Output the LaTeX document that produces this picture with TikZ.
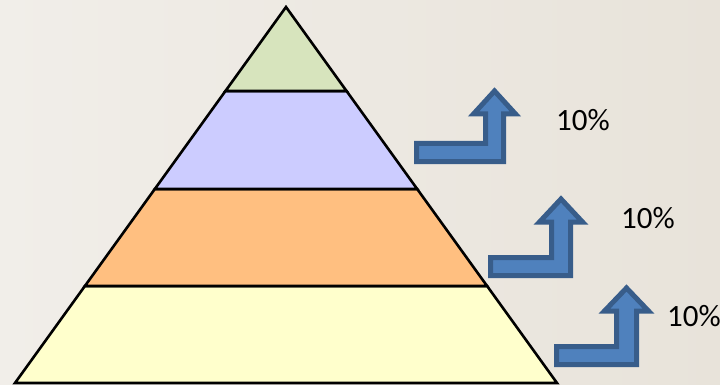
\documentclass[tikz,border=0pt]{standalone}
\usepackage{fontspec}
\setmainfont{Carlito}
\usepackage{tikz}
\usetikzlibrary{calc}
\definecolor{paperlight}{HTML}{F1EEE9}
\definecolor{paperdark}{HTML}{E8E3DA}
\definecolor{tiertop}{HTML}{D7E4BD}
\definecolor{tiertwo}{HTML}{CCCCFF}
\definecolor{tierthree}{HTML}{FFBF80}
\definecolor{tierbase}{HTML}{FFFFCC}
\definecolor{arrowfill}{HTML}{4F81BD}
\definecolor{arrowline}{HTML}{385D8A}
\tikzset{
  tier/.style={draw=black, line width=2.6pt, line join=miter},
  upturn/.style={draw=arrowline, fill=arrowfill, line width=5pt, line join=miter, miter limit=4},
  pctlabel/.style={font=\fontsize{31}{36}\selectfont, inner sep=0pt, text=black}
}
% bent-up block arrow: left x, bottom y, shaft left x, shaft right x, tip y
\newcommand{\turnarrow}[5]{%
  \draw[upturn] (#1,#2) -- (#4,#2) -- (#4,{#5+23}) -- ({#4+12},{#5+23})
    -- ({(#3+#4)/2},#5) -- ({#3-12},{#5+23}) -- (#3,{#5+23})
    -- (#3,{#2-18}) -- (#1,{#2-18}) -- cycle;}

\begin{document}
\begin{tikzpicture}[x=1pt, y=-1pt]
  \shade[left color=paperlight, right color=paperdark] (0,0) rectangle (720,385);
  \useasboundingbox (0,0) rectangle (720,385);

  \coordinate (apex) at (286,7);
  \coordinate (bl) at (15,383);
  \coordinate (br) at (557,383);
  \coordinate (l1) at ($(apex)!0.2234!(bl)$);
  \coordinate (r1) at ($(apex)!0.2234!(br)$);
  \coordinate (l2) at ($(apex)!0.484!(bl)$);
  \coordinate (r2) at ($(apex)!0.484!(br)$);
  \coordinate (l3) at ($(apex)!0.742!(bl)$);
  \coordinate (r3) at ($(apex)!0.742!(br)$);

  \draw[tier, fill=tierbase] (l3) -- (r3) -- (br) -- (bl) -- cycle;
  \draw[tier, fill=tierthree] (l2) -- (r2) -- (r3) -- (l3) -- cycle;
  \draw[tier, fill=tiertwo] (l1) -- (r1) -- (r2) -- (l2) -- cycle;
  \draw[tier, fill=tiertop] (apex) -- (r1) -- (l1) -- cycle;

  \turnarrow{416.5}{161.5}{485.5}{503.5}{91}
  \turnarrow{490.5}{275.5}{551.5}{570.5}{199}
  \turnarrow{556.5}{364.5}{616.5}{636.5}{288}

  \node[pctlabel] (pct1) at (583,120) {10\%};
  \node[pctlabel] (pct2) at (648,218) {10\%};
  \node[pctlabel] (pct3) at (694,316) {10\%};
\end{tikzpicture}
\end{document}
